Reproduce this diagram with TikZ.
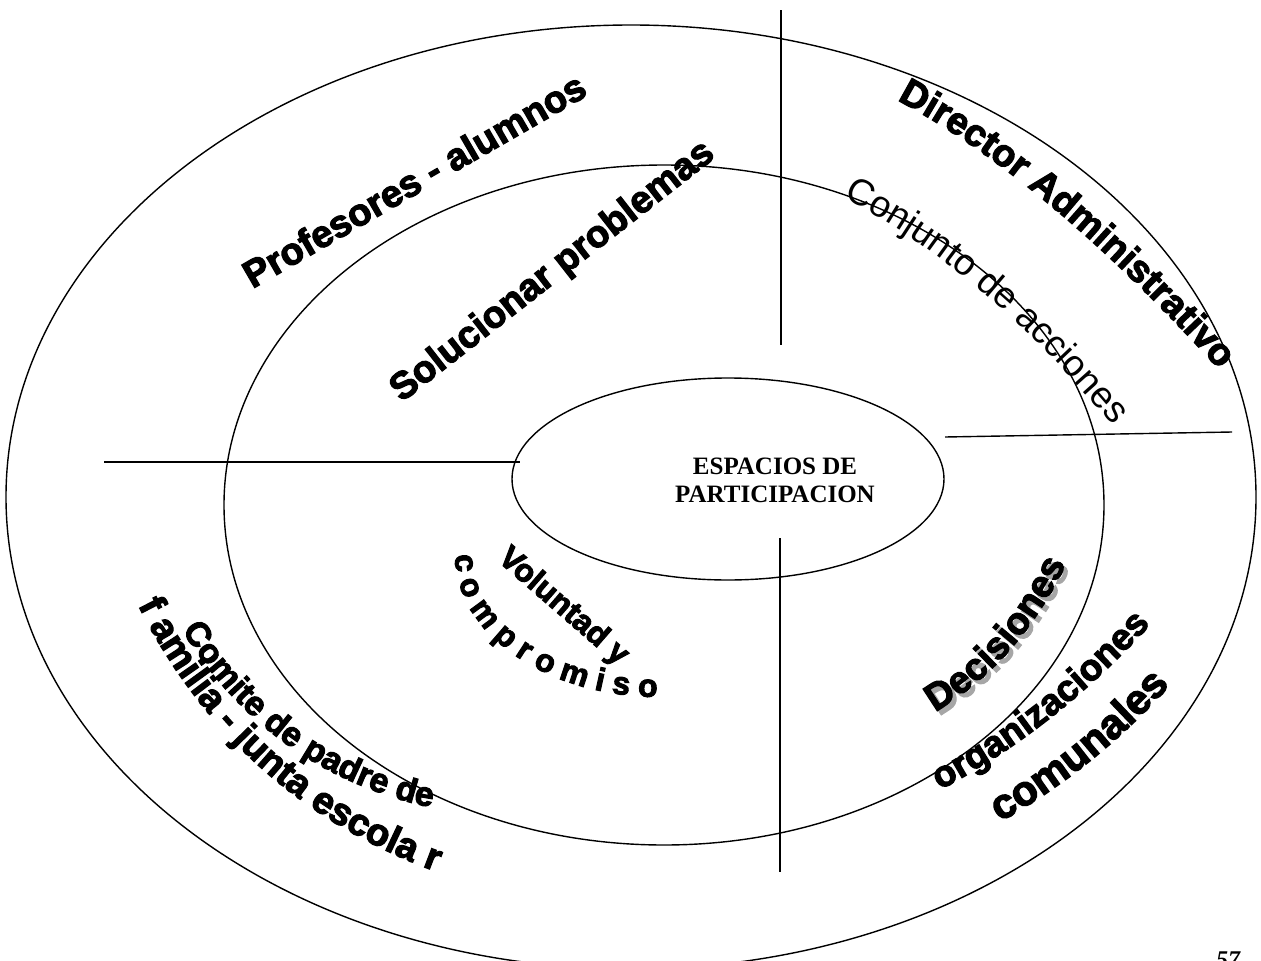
\documentclass[tikz,border=0pt]{standalone}
\usepackage{fontspec}
\setmainfont{Liberation Sans}
\newfontfamily\serifb{Liberation Serif}
\newfontfamily\heavy[FakeBold=3]{Liberation Sans}
\usetikzlibrary{decorations.text}
\tikzset{
  wa/.style={font=\heavy\fontsize{38}{40}\selectfont\bfseries, inner sep=0pt},
  ring/.style={line width=1.4pt},
  divider/.style={line width=1.4pt},
}
\begin{document}
\begin{tikzpicture}[x=1pt,y=-1pt]
\useasboundingbox (0,0) rectangle (1261,961);
\clip (0,0) rectangle (1261,961);
% ellipses
\draw[ring] (631,497) ellipse [x radius=625, y radius=472];
\draw[ring] (664,505) ellipse [x radius=440, y radius=340];
\draw[ring] (728,479) ellipse [x radius=216, y radius=101];
% dividers
\coordinate (t1) at (781,10);  \coordinate (t2) at (781,345);
\coordinate (l1) at (104,462); \coordinate (l2) at (520,462);
\coordinate (r1) at (945,437); \coordinate (r2) at (1232,432);
\coordinate (b1) at (780,538); \coordinate (b2) at (780,872);
\draw[divider] (t1) -- (t2);
\draw[divider] (l1) -- (l2);
\draw[divider] (r1) -- (r2);
\draw[divider] (b1) -- (b2);
% centre text
\node[font=\serifb\bfseries\fontsize{25}{28}\selectfont, align=center] (esp) at (775,480) {ESPACIOS DE\\PARTICIPACION};
% straight word art
\node[wa, rotate=30] (prof) at (414,180) {Profesores - alumnos};
\node[wa, rotate=38] (sol) at (553,272) {Solucionar problemas};
\node[wa, font=\heavy\fontsize{32}{34}\selectfont\bfseries, rotate=-41] (vol) at (563,607) {Voluntad y};
% curved word art
\path[decorate, decoration={text along path, text align=left,
  text={|\heavy\fontsize{38}{40}\selectfont\bfseries|Director Administrativo}}]
  (897,100) .. controls (995,152) and (1101,240) .. (1215,365) -- (1242,395);
\path[decorate, decoration={text along path, text align=left,
  text={|\fontsize{37}{40}\selectfont|Conjunto de acciones}}]
  (843,198) .. controls (936,245) and (1026,321) .. (1112,425) -- (1135,455);
\begin{scope}[shift={(4,4)}]
\path[decorate, decoration={text along path, text align=left, text color=gray!70,
  text={|\heavy\fontsize{38}{40}\selectfont\bfseries|Decisiones}}]
  (935,712) .. controls (991,679) and (1035,629) .. (1067,562) -- (1080,530);
\end{scope}
\path[decorate, decoration={text along path, text align=left,
  text={|\heavy\fontsize{38}{40}\selectfont\bfseries|Decisiones}}]
  (935,712) .. controls (991,679) and (1035,629) .. (1067,562) -- (1080,530);
\path[decorate, decoration={text along path, text align=left,
  text={|\heavy\fontsize{37}{40}\selectfont\bfseries|organizaciones}}]
  (940,790) .. controls (1017,749) and (1087,694) .. (1150,625) -- (1175,595);
\path[decorate, decoration={text along path, text align=left,
  text={|\heavy\fontsize{42}{44}\selectfont\bfseries|comunales}}]
  (1000,822) .. controls (1067,784) and (1127,735) .. (1178,676) -- (1200,650);
\path[decorate, decoration={text along path, text align=left,
  text={|\heavy\fontsize{34}{36}\selectfont\bfseries|Comite de padre de}}]
  (182,630) .. controls (238,721) and (317,779) .. (420,805) -- (460,812);
\path[decorate, decoration={text along path, text align=left,
  text={|\heavy\fontsize{38}{40}\selectfont\bfseries|f amilia - junta escola r}}]
  (138,605) .. controls (203,734) and (304,824) .. (440,873) -- (480,885);
\path[decorate, decoration={text along path, text align=left,
  text={|\heavy\fontsize{32}{34}\selectfont\bfseries|c o m p r o m i s o}}]
  (455,555) arc[start angle=180, end angle=70, x radius=205, y radius=142];
% page number
\node[font=\serifb\itshape\bfseries\fontsize{24}{26}\selectfont, anchor=north, inner sep=0pt] (pg) at (1228,952) {57};
\end{tikzpicture}
\end{document}
